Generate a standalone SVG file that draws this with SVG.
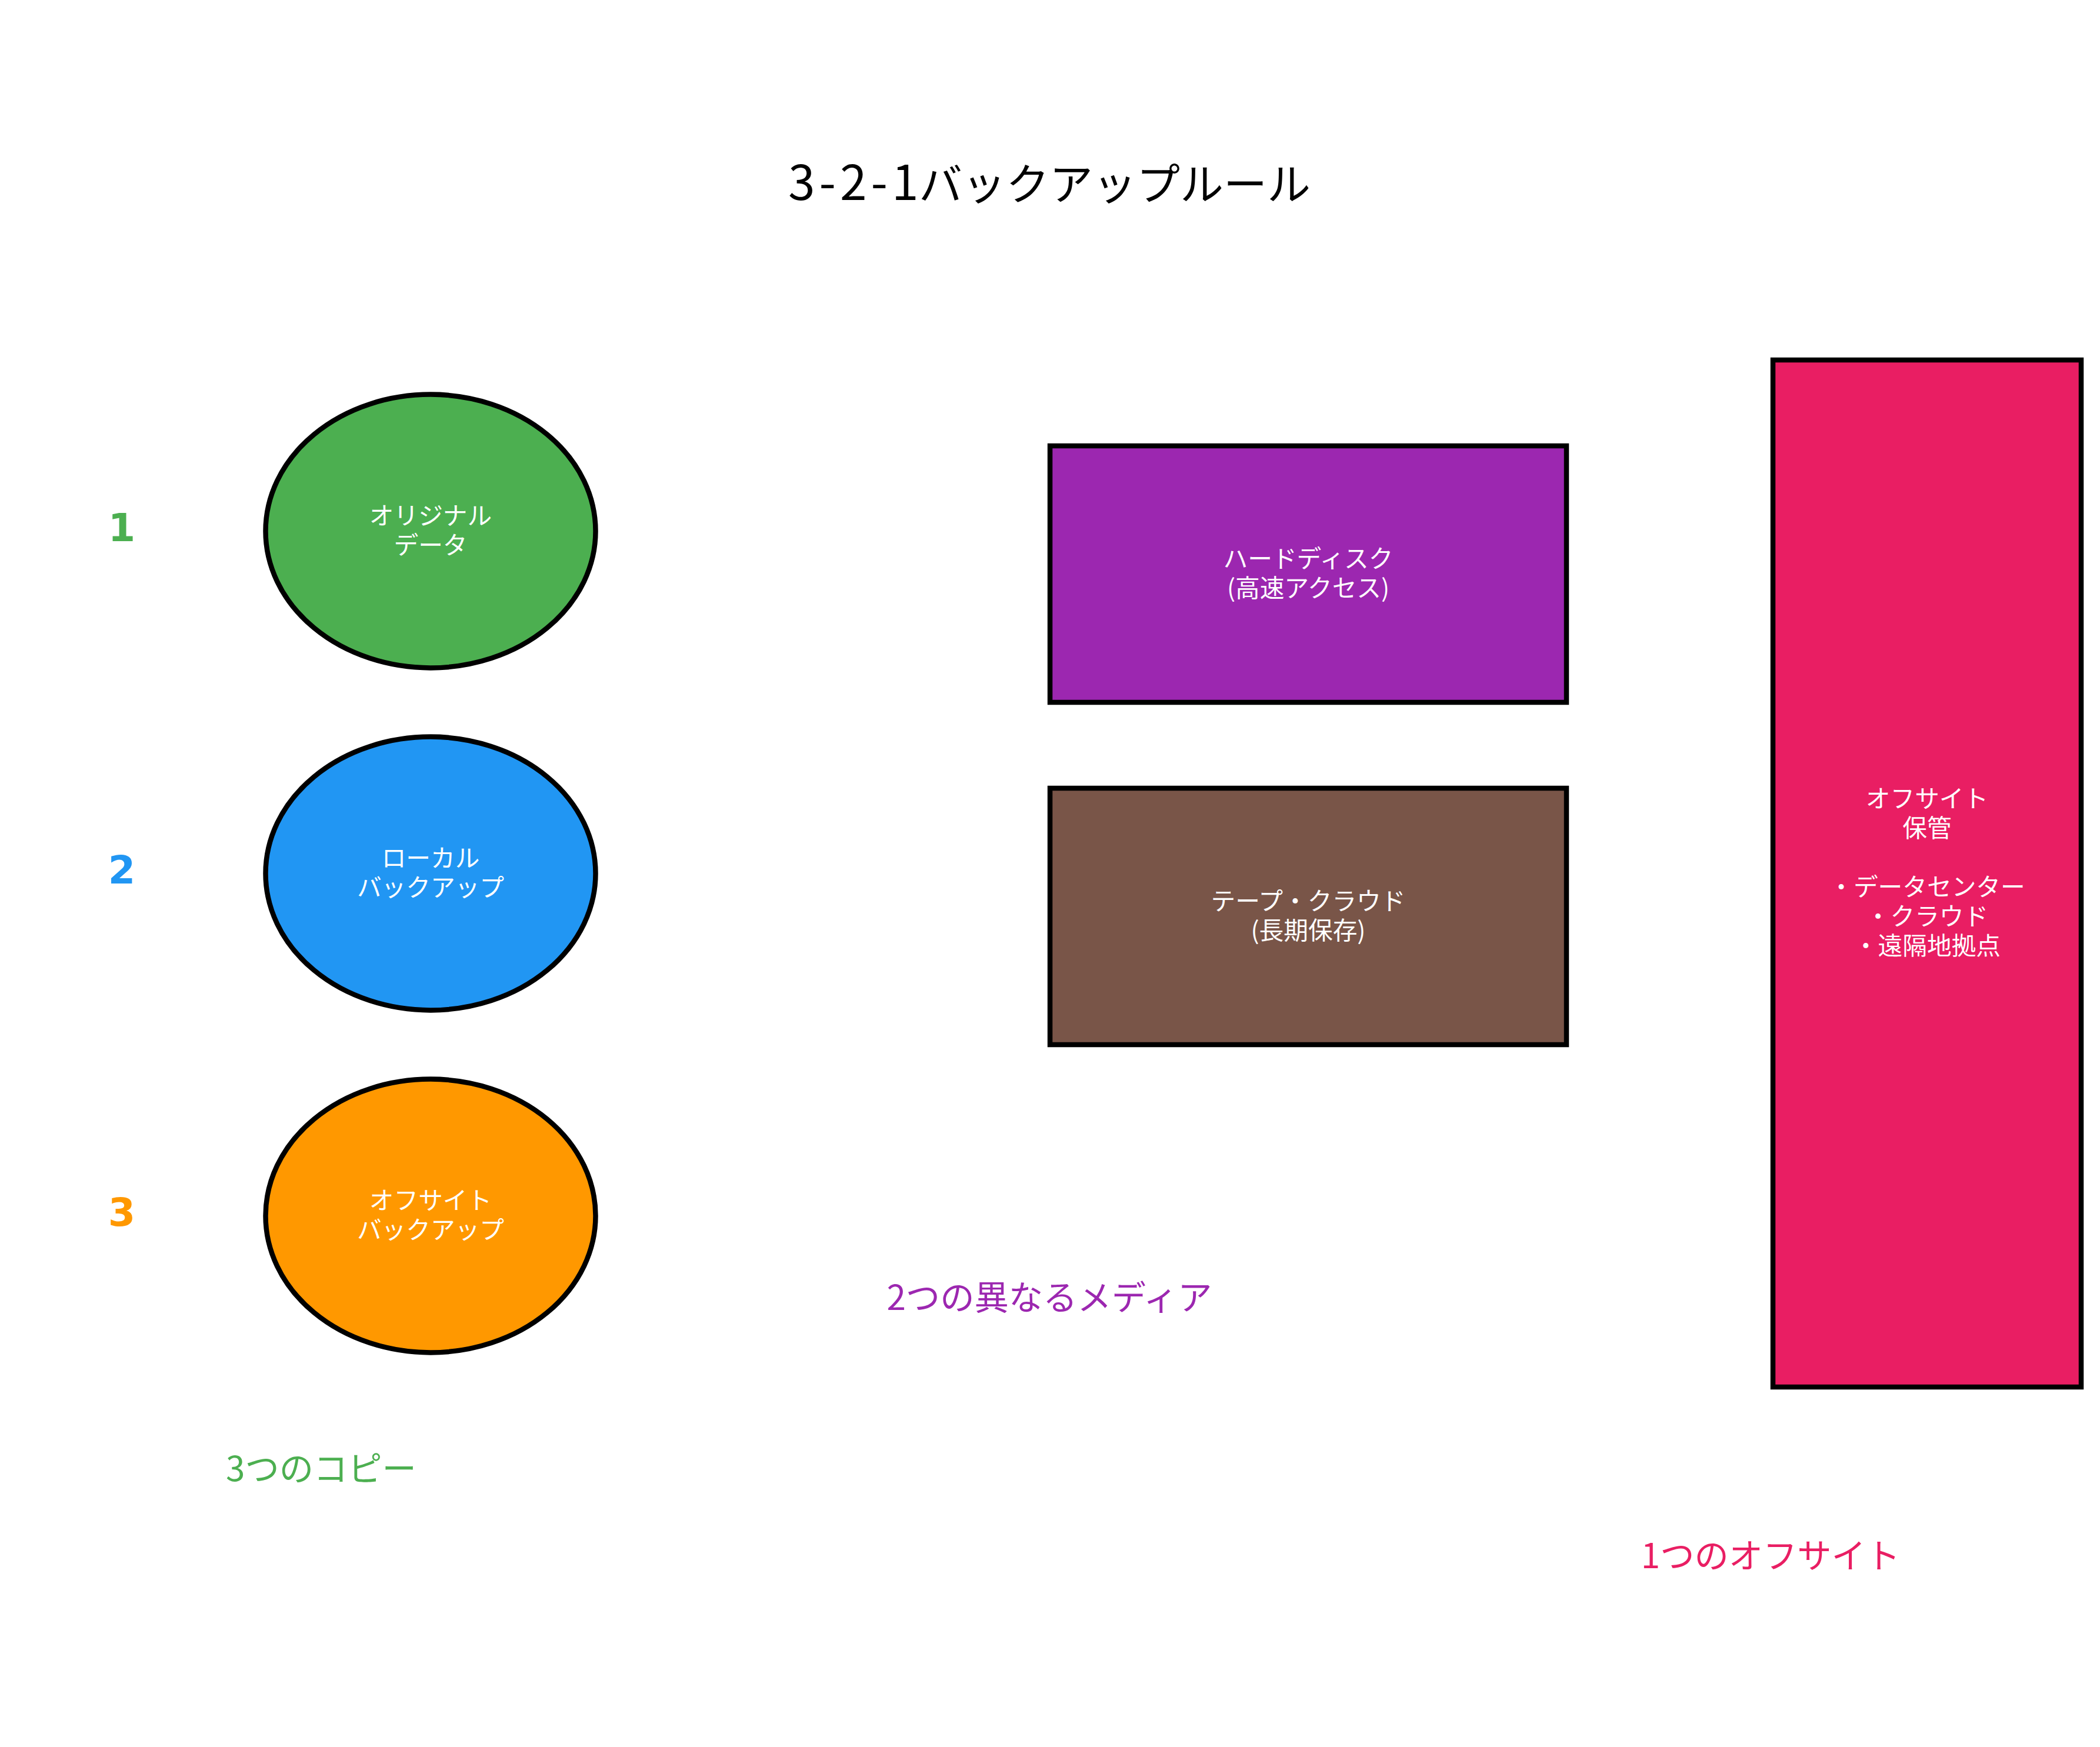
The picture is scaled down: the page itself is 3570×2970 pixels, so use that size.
<svg xmlns="http://www.w3.org/2000/svg" width="3570" height="2970" viewBox="0 0 3570 2970">
<style>
.shape{stroke:#000;stroke-width:8.5}
.jp{font-family:"Noto Sans CJK JP","Noto Sans",sans-serif}
.node{font-size:41.7px;fill:#fff;text-anchor:middle}
.num{font-family:"DejaVu Sans",sans-serif;font-weight:bold;font-size:66.7px;text-anchor:middle}
.cap{font-size:58.3px;text-anchor:middle}
</style>
<rect width="3570" height="2970" fill="#fff"/>
<text id="title" class="jp" y="340" fill="#000"><tspan x="1340" font-size="82" letter-spacing="7">3-2-1</tspan><tspan x="1562" font-size="74">バックアップルール</tspan></text>
<g id="connectors"/>
<g id="num1"><text class="num" x="207" y="920" fill="#4CAF50">1</text></g>
<g id="num2"><text class="num" x="207" y="1502" fill="#2196F3">2</text></g>
<g id="num3"><text class="num" x="207" y="2084" fill="#FF9800">3</text></g>
<g id="original">
<ellipse class="shape" cx="732" cy="903" rx="280.5" ry="232.4" fill="#4CAF50"/>
<text class="jp node" x="732" y="892">オリジナル<tspan x="732" dy="50">データ</tspan></text>
</g>
<g id="local">
<ellipse class="shape" cx="732" cy="1485" rx="280.5" ry="232.4" fill="#2196F3"/>
<text class="jp node" x="732" y="1474">ローカル<tspan x="732" dy="50">バックアップ</tspan></text>
</g>
<g id="offsite-backup">
<ellipse class="shape" cx="732" cy="2067" rx="280.5" ry="232.4" fill="#FF9800"/>
<text class="jp node" x="732" y="2056">オフサイト<tspan x="732" dy="50">バックアップ</tspan></text>
</g>
<g id="harddisk">
<rect class="shape" x="1785" y="758" width="878" height="436" fill="#9C27B0"/>
<text class="jp node" x="2224" y="965">ハードディスク<tspan x="2224" dy="50">(高速アクセス)</tspan></text>
</g>
<g id="tape">
<rect class="shape" x="1785" y="1340" width="878" height="436" fill="#795548"/>
<text class="jp node" x="2224" y="1547">テープ・クラウド<tspan x="2224" dy="50">(長期保存)</tspan></text>
</g>
<g id="offsite-storage">
<rect class="shape" x="3014" y="612" width="524" height="1746" fill="#E91E63"/>
<text class="jp node" x="3276" y="1373">オフサイト<tspan x="3276" dy="50">保管</tspan><tspan x="3276" dy="100">・データセンター</tspan><tspan x="3276" dy="50">・クラウド</tspan><tspan x="3276" dy="50">・遠隔地拠点</tspan></text>
</g>
<g id="captions">
<text class="jp cap" x="546" y="2518" fill="#4CAF50">3つのコピー</text>
<text class="jp cap" x="1784" y="2227" fill="#9C27B0">2つの異なるメディア</text>
<text class="jp cap" x="3010" y="2666" fill="#E91E63">1つのオフサイト</text>
</g>
</svg>
